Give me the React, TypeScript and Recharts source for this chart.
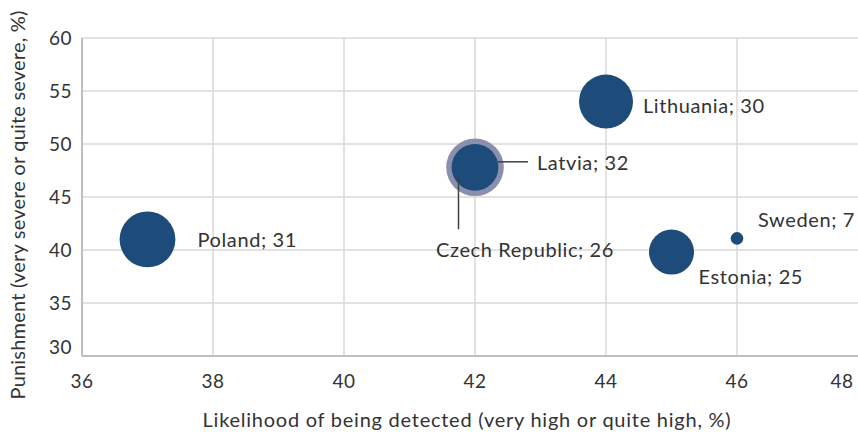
import { CartesianGrid, Label, Scatter, ScatterChart, XAxis, YAxis } from "recharts";

// Survey: perceived likelihood of detection vs. severity of punishment
const countries = ["Poland", "Latvia", "Czech Republic", "Lithuania", "Estonia", "Sweden"];
const detected = [37, 42, 42, 44, 45, 46];
const punishment = [41, 47.8, 47.8, 54, 39.8, 41.1];
const bubbleSize = [31, 32, 26, 30, 25, 7];

const xTicks = [36, 38, 40, 42, 44, 46, 48];
const yTicks = [30, 35, 40, 45, 50, 55, 60];

const points = countries.map((name, i) => ({
    name,
    x: detected[i],
    y: punishment[i],
    size: bubbleSize[i],
}));

const BLUE = "#1d4b7a";
const TEXT = "#333333";
const FONT = "Lato, 'Open Sans', sans-serif";

// where each data label sits, relative to the bubble centre
const labelPlacement: Record<string, { dx: number; dy: number; anchor?: string; leader?: number[] }> = {
    Poland: { dx: 50, dy: 8 },
    Latvia: { dx: 62, dy: 3, leader: [23, -5.5, 53, -5.5] },
    "Czech Republic": { dx: 50, dy: 90, anchor: "middle", leader: [-16.5, 9.5, -16.5, 62] },
    Lithuania: { dx: 37, dy: 11 },
    Estonia: { dx: 27, dy: 31.5 },
    Sweden: { dx: 21, dy: -11.6 },
};

function Bubble(props: any)
{
    const { cx, cy, payload } = props;
    const r = payload.size * 0.9;
    const place = labelPlacement[payload.name];
    const fill = payload.name === "Latvia" ? "#8b8fae" : BLUE;
    return (
        <g>
            <circle cx={cx} cy={cy} r={r} fill={fill} />
            {place.leader && (
                <line
                    x1={cx + place.leader[0]}
                    y1={cy + place.leader[1]}
                    x2={cx + place.leader[2]}
                    y2={cy + place.leader[3]}
                    stroke="#404040"
                    strokeWidth={1.5}
                />
            )}
            <text
                x={cx + place.dx}
                y={cy + place.dy}
                textAnchor={place.anchor || "start"}
                fill={TEXT}
                fontSize={20}
                letterSpacing={0.6}
                fontFamily={FONT}
            >
                {`${payload.name}; ${payload.size}`}
            </text>
        </g>
    );
}

function XTick(props: any)
{
    const { x, y, payload } = props;
    return (
        <text
            x={Math.min(x, 842)}
            y={y}
            dy="0.71em"
            textAnchor="middle"
            fill={TEXT}
            fontSize={19}
            letterSpacing={0.5}
            fontFamily={FONT}
        >
            {payload.value}
        </text>
    );
}

function YTick(props: any)
{
    const { x, y, payload } = props;
    const shift = payload.value === 30 ? -9 : 0;
    return (
        <text
            x={x}
            y={y + shift}
            dy="0.355em"
            textAnchor="end"
            fill={TEXT}
            fontSize={19}
            letterSpacing={0.5}
            fontFamily={FONT}
        >
            {payload.value}
        </text>
    );
}

export default function App()
{
    return (
        <div style={{ width: 858, height: 437, overflow: "hidden", background: "#fff" }}>
            <style>{"body{margin:0}"}</style>
            <ScatterChart width={880} height={437} margin={{ top: 38, right: 12, bottom: 0, left: 0 }}>
                <CartesianGrid stroke="#d9d9d9" strokeWidth={1.5} />
                <XAxis
                    type="number"
                    dataKey="x"
                    domain={[36, 48]}
                    ticks={xTicks}
                    height={81}
                    tickSize={0}
                    tickMargin={19}
                    tick={<XTick />}
                    stroke="#bfbfbf"
                    strokeWidth={2}
                >
                    <Label
                        value="Likelihood of being detected (very high or quite high, %)"
                        position="insideBottom"
                        offset={10}
                        dx={-8}
                        fill={TEXT}
                        fontSize={20}
                        letterSpacing={0.75}
                        fontFamily={FONT}
                    />
                </XAxis>
                <YAxis
                    type="number"
                    dataKey="y"
                    domain={[30, 60]}
                    ticks={yTicks}
                    width={82}
                    tickSize={0}
                    tickMargin={10}
                    tick={<YTick />}
                    stroke="#bfbfbf"
                    strokeWidth={2}
                >
                    <Label
                        value="Punishment (very severe or quite severe, %)"
                        angle={-90}
                        position="insideLeft"
                        offset={18}
                        dy={8}
                        fill={TEXT}
                        fontSize={20}
                        letterSpacing={0.2}
                        fontFamily={FONT}
                        style={{ textAnchor: "middle" }}
                    />
                </YAxis>
                <Scatter data={points} shape={<Bubble />} isAnimationActive={false} />
            </ScatterChart>
        </div>
    );
}
